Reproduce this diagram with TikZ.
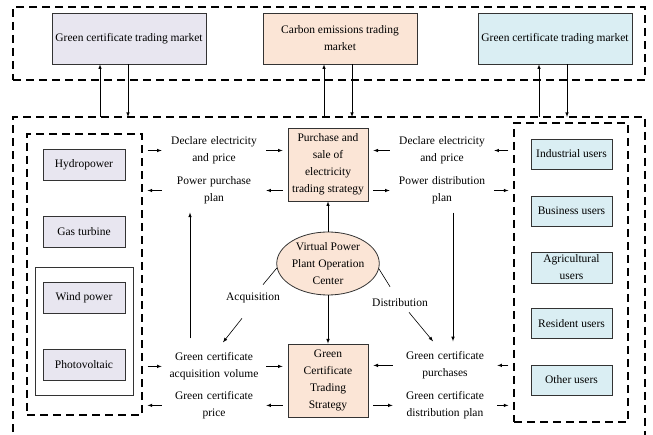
\documentclass[tikz,border=0pt]{standalone}
\usepackage{fontspec}
\setmainfont{Liberation Serif}
\usetikzlibrary{shapes.geometric}

\definecolor{lilac}{HTML}{E8E6F0}
\definecolor{peach}{HTML}{FBE5D6}
\definecolor{paleblue}{HTML}{DAEEF3}
\newcommand{\figfont}{\fontsize{11.5}{17}\selectfont}

\tikzset {
    dashframe/.style={rectangle, draw=black, line width=1.2pt, dash pattern=on 8pt off 5pt, inner sep=0pt},
    mktbox/.style={rectangle, draw=black!80, line width=0.8pt, minimum width=154pt, minimum height=51pt, inner sep=0pt, align=center, font=\figfont},
    gen/.style={rectangle, draw=black!80, fill=lilac, line width=0.8pt, minimum width=82pt, minimum height=31pt, inner sep=0pt, font=\figfont},
    usr/.style={rectangle, draw=black!80, fill=paleblue, line width=0.8pt, minimum width=81pt, minimum height=30pt, inner sep=0pt, align=center, font=\figfont},
    strat/.style={rectangle, draw=black!80, fill=peach, line width=0.8pt, minimum width=80pt, minimum height=73pt, inner sep=0pt, align=center, font=\figfont},
    core/.style={ellipse, draw=black!80, fill=peach, line width=0.8pt, minimum width=98pt, minimum height=63pt, inner sep=0pt, align=center, font=\figfont},
    info/.style={text width=94pt, align=center, inner sep=0pt, font=\figfont},
    lbl/.style={inner sep=2pt, font=\figfont},
    link/.style={->, >=latex, shorten <=5pt, shorten >=5pt},
}

\begin{document}
\begin{tikzpicture}[x=1pt, y=-1pt, semithick]
    \useasboundingbox (0, 0) rectangle (653, 435);

    % trading markets
    \node (mkt) at (329, 43.5) [dashframe, minimum width=632pt, minimum height=73pt] {};
    \node (gcmL) at (129, 38.5) [mktbox, fill=lilac] {Green certificate trading market};
    \node (cem) at (340, 38.5) [mktbox, fill=peach] {Carbon emissions trading\\market};
    \node (gcmR) at (555, 38.5) [mktbox, fill=paleblue] {Green certificate trading market};

    % virtual power plant frame, open at the bottom
    \coordinate (vppTop) at (13, 117);
    \draw [line width=1.2pt, dash pattern=on 8pt off 5pt] (13, 445) -- (vppTop) -- (645, 117) -- (645, 445);

    % generators
    \node (srcs) at (84.5, 274.5) [dashframe, minimum width=115pt, minimum height=281pt] {};
    \node (res) at (84, 331) [rectangle, draw=black!80, line width=0.8pt, minimum width=98pt, minimum height=128pt] {};
    \node (hydro) at (84, 164.5) [gen] {Hydropower};
    \node (gas) at (84, 231.5) [gen] {Gas turbine};
    \node (wind) at (84, 298) [gen] {Wind power};
    \node (pv) at (84, 365) [gen] {Photovoltaic};

    % users
    \node (users) at (571, 272.5) [dashframe, minimum width=114pt, minimum height=299pt] {};
    \node (ind) at (571.5, 154) [usr] {Industrial users};
    \node (bus) at (571.5, 211) [usr] {Business users};
    \node (agr) at (571.5, 267.5) [usr, minimum height=31pt] {Agricultural\\users};
    \node (resi) at (571.5, 323.5) [usr] {Resident users};
    \node (oth) at (571.5, 380) [usr] {Other users};

    % strategies and operation center
    \node (ps) at (328, 164.5) [strat] {Purchase and\\sale of\\electricity\\trading strategy};
    \node (vpp) at (328, 263.5) [core] {Virtual Power\\Plant Operation\\Center};
    \node (gct) at (328, 380.5) [strat] {Green\\Certificate\\Trading\\Strategy};

    % flows
    \node (declL) at (214, 150.5) [info] {Declare electricity\\and price};
    \node (planL) at (214, 190.5) [info] {Power purchase\\plan};
    \node (acqL) at (214, 366.4) [info] {Green certificate\\acquisition volume};
    \node (priceL) at (214, 405.4) [info] {Green certificate\\price};
    \node (declR) at (442, 150.5) [info] {Declare electricity\\and price};
    \node (planR) at (442, 190.5) [info] {Power distribution\\plan};
    \node (purch) at (445, 365.4) [info] {Green certificate\\purchases};
    \node (distR) at (445, 405.4) [info] {Green certificate\\distribution plan};
    \node (acq) at (253, 298) [lbl] {Acquisition};
    \node (dist) at (400, 303) [lbl] {Distribution};

    % market links
    \draw [->, >=latex] ([xshift=-29pt]gcmL.south |- vppTop) -- ([xshift=-29pt]gcmL.south);
    \draw [->, >=latex] ([xshift=-1pt]gcmL.south) -- ([xshift=-1pt]gcmL.south |- vppTop);
    \draw [->, >=latex] ([xshift=-16pt]cem.south |- vppTop) -- ([xshift=-16pt]cem.south);
    \draw [->, >=latex] ([xshift=12pt]cem.south) -- ([xshift=12pt]cem.south |- vppTop);
    \draw [->, >=latex] ([xshift=-16pt]gcmR.south |- vppTop) -- ([xshift=-16pt]gcmR.south);
    \draw [->, >=latex] ([xshift=12pt]gcmR.south) -- ([xshift=12pt]gcmR.south |- vppTop);

    % generator side
    \draw [link] (srcs.east |- declL) -- (declL.west);
    \draw [link] (declL.east) -- (ps.west |- declL.east);
    \draw [link] (ps.west |- planL.east) -- (planL.east);
    \draw [link] (planL.west) -- (srcs.east |- planL.west);
    \draw [link] (srcs.east |- acqL) -- (acqL.west);
    \draw [link] (acqL.east) -- (gct.west |- acqL.east);
    \draw [link] (gct.west |- priceL.east) -- (priceL.east);
    \draw [link] (priceL.west) -- (srcs.east |- priceL.west);

    % user side
    \draw [link] (users.west |- declR) -- (declR.east);
    \draw [link] (declR.west) -- (ps.east |- declR.west);
    \draw [link] (ps.east |- planR.west) -- (planR.west);
    \draw [link] (planR.east) -- (users.west |- planR.east);
    \draw [link] (users.west |- purch) -- (purch.east);
    \draw [link] (purch.west) -- (gct.east |- purch.west);
    \draw [link] (gct.east |- distR.west) -- (distR.west);
    \draw [link] (distR.east) -- (users.west |- distR.east);

    % operation center
    \draw [->, >=latex] (vpp) -- (ps);
    \draw [->, >=latex] (vpp) -- (gct);
    \draw ([xshift=10pt, yshift=6pt]acq.north) -- (vpp.185);
    \draw [->, >=latex] ([xshift=-11pt, yshift=-13pt]acq.south) -- ([xshift=9pt, yshift=10pt]acqL.north);
    \draw ([xshift=-10pt, yshift=10pt]dist.north) -- (vpp.354);
    \draw [->, >=latex] ([xshift=9pt, yshift=-3pt]dist.south) -- ([xshift=-12pt, yshift=10pt]purch.north);
    \draw [->, >=latex, shorten <=14pt, shorten >=8pt] ([xshift=-24pt]acqL.north) -- ([xshift=-24pt]acqL.north |- planL.south);
    \draw [->, >=latex, shorten <=8pt, shorten >=10pt] ([xshift=11pt]planR.south) -- ([xshift=11pt]planR.south |- purch.north);
\end{tikzpicture}
\end{document}
